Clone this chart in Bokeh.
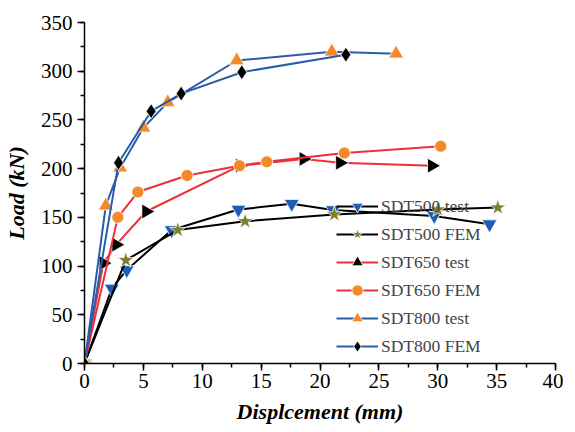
import numpy as np
from bokeh.plotting import figure
from bokeh.models import Range1d, Legend, LegendItem, FixedTicker
from bokeh.embed import file_html
from bokeh.resources import INLINE

# ---- data ----
x500t = [0, 2.32, 3.59, 7.41, 13.07, 17.6, 21.1, 29.7, 34.4]
y500t = [0, 77, 96, 137, 158, 164, 157.5, 151.5, 143]
x500f = [0, 3.51, 7.92, 13.64, 21.22, 30.0, 35.1]
y500f = [0, 106, 137, 146, 153, 158, 160]
x650t = [0, 1.61, 2.69, 5.24, 13.2, 18.6, 21.7, 29.5]
y650t = [0, 103, 122, 156, 203, 210, 206, 203]
x650f = [0, 2.83, 4.53, 8.71, 13.16, 15.48, 22.07, 30.25]
y650f = [0, 150, 176, 193, 203, 207, 216, 223]
x800t = [0, 1.81, 3.03, 5.0, 7.07, 12.93, 21.0, 26.46]
y800t = [0, 162, 201, 242, 268, 311, 320, 318]
x800f = [0, 2.89, 5.66, 8.21, 13.36, 22.2]
y800f = [0, 206, 259, 277, 299, 317]

labels = ["SDT500 test", "SDT500 FEM", "SDT650 test", "SDT650 FEM", "SDT800 test", "SDT800 FEM"]
x_ticks = [0, 5, 10, 15, 20, 25, 30, 35, 40]
y_ticks = [0, 50, 100, 150, 200, 250, 300, 350]

BLUE = "#2a5caa"
RED = "#ee2f37"
BLACK = "#000000"
ORANGE = "#f28a2a"
MBLUE = "#1f5cb3"
OLIVE = "#7d7d2e"

FONT = "Liberation Serif"

p = figure(frame_width=471, frame_height=341, output_backend="svg", toolbar_location=None,
           x_range=Range1d(0, 40), y_range=Range1d(0, 350),
           min_border_left=79, min_border_top=22, min_border_right=8, min_border_bottom=66)
p.outline_line_color = None
p.grid.visible = False

series = [
    (x500t, y500t, BLACK, "inverted_triangle", MBLUE, 15, 0),
    (x500f, y500f, BLACK, "star", OLIVE, 17, 0),
    (x650t, y650t, RED, "triangle", BLACK, 15, -np.pi / 2),
    (x650f, y650f, RED, "circle", ORANGE, 12, 0),
    (x800t, y800t, BLUE, "triangle", ORANGE, 15, 0),
    (x800f, y800f, BLUE, "diamond", BLACK, 15, 0),
]

items = []
for (xs, ys, lc, mk, mc, sz, ang), lab in zip(series, labels):
    r1 = p.line(xs, ys, line_color=lc, line_width=2)
    r2 = p.scatter(xs, ys, marker=mk, size=sz, angle=ang, fill_color=mc,
                   line_color="white", line_width=0.8)
    items.append(LegendItem(label=lab, renderers=[r1, r2]))

legend = Legend(items=items, location=(252, 3), padding=0, margin=0,
                border_line_alpha=0, background_fill_alpha=0,
                glyph_width=42, glyph_height=28, label_height=21, spacing=-7,
                label_standoff=3, label_text_font=FONT, label_text_font_size="17.5px")
p.add_layout(legend)

p.axis.axis_line_width = 1.5
p.axis.axis_line_color = "black"
p.axis.major_tick_line_width = 1.5
p.axis.minor_tick_line_width = 1.5
p.axis.major_tick_out = 7
p.axis.major_tick_in = 0
p.axis.minor_tick_out = 4
p.axis.minor_tick_in = 0
p.axis.major_label_text_font = FONT
p.axis.major_label_text_font_size = "21px"
p.axis.major_label_text_color = "black"
p.axis.axis_label_text_font = FONT
p.axis.axis_label_text_font_style = "bold italic"
p.axis.axis_label_text_font_size = "22px"
p.axis.axis_label_text_color = "black"

p.xaxis.ticker = FixedTicker(ticks=x_ticks, minor_ticks=list(np.arange(0, 40.1, 2.5)))
p.yaxis.ticker = FixedTicker(ticks=y_ticks, minor_ticks=list(np.arange(0, 350.1, 25)))
p.xaxis.axis_label = "Displcement (mm)"
p.yaxis.axis_label = "Load (kN)"
p.xaxis.major_label_standoff = 3
p.yaxis.major_label_standoff = 5
p.xaxis.axis_label_standoff = 8
p.yaxis.axis_label_standoff = 9

open("out.html", "w").write(file_html(p, INLINE))
